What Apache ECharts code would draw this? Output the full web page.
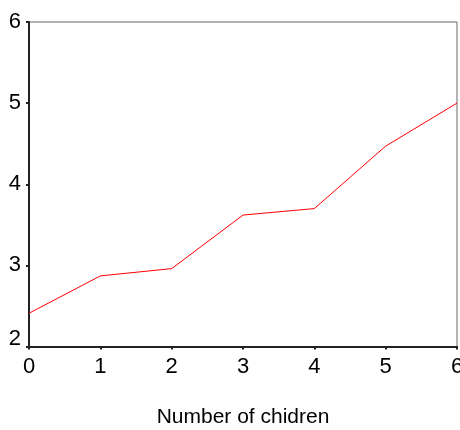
<!DOCTYPE html>
<html>
<head>
<meta charset="utf-8">
<script src="https://cdn.jsdelivr.net/npm/echarts@6/dist/echarts.min.js"></script>
<style>html,body{margin:0;padding:0;background:#fff;}#c{width:460px;height:430px;}</style>
</head>
<body>
<div id="c"></div>
<script>
const children = [0, 1, 2, 3, 4, 5, 6];
const meanValues = [2.41, 2.87, 2.96, 3.62, 3.70, 4.47, 5.00];
const xAxisTitle = 'Number of chidren';

const chart = echarts.init(document.getElementById('c'), null, {renderer: 'canvas'});
chart.setOption({
  animation: false,
  backgroundColor: '#fff',
  grid: {left: 29, right: 3, top: 22, bottom: 83.5, containLabel: false, outerBoundsMode: 'none',
    show: true, borderColor: '#666', borderWidth: 1, backgroundColor: 'transparent'},
  xAxis: {
    type: 'value', min: 0, max: 6, interval: 1,
    name: xAxisTitle, nameLocation: 'middle', nameGap: 60,
    nameTextStyle: {fontFamily: 'Liberation Sans', fontSize: 21, color: '#000'},
    axisLine: {show: true, onZero: false, lineStyle: {color: '#222', width: 2}},
    axisTick: {show: true, length: 3, lineStyle: {color: '#222', width: 2}},
    axisLabel: {fontFamily: 'Liberation Sans', fontSize: 22, color: '#000', margin: 9},
    splitLine: {show: false}
  },
  yAxis: {
    type: 'value', min: 2, max: 6, interval: 1,
    axisLine: {show: true, onZero: false, lineStyle: {color: '#222', width: 2}},
    axisTick: {show: true, length: 3, lineStyle: {color: '#222', width: 2}},
    axisLabel: {fontFamily: 'Liberation Sans', fontSize: 22, color: '#000', margin: 8,
      formatter: function (v) { return v === 2 ? '{lo|' + v + '}' : String(v); },
      rich: {lo: {fontFamily: 'Liberation Sans', fontSize: 22, color: '#000', padding: [0, 0, 16, 0]}}
    },
    splitLine: {show: false}
  },
  series: [{
    type: 'line',
    data: children.map((c, i) => [c, meanValues[i]]),
    showSymbol: false,
    lineStyle: {color: '#ff0000', width: 1},
    itemStyle: {color: '#ff0000'}
  }]
});
</script>
</body>
</html>
